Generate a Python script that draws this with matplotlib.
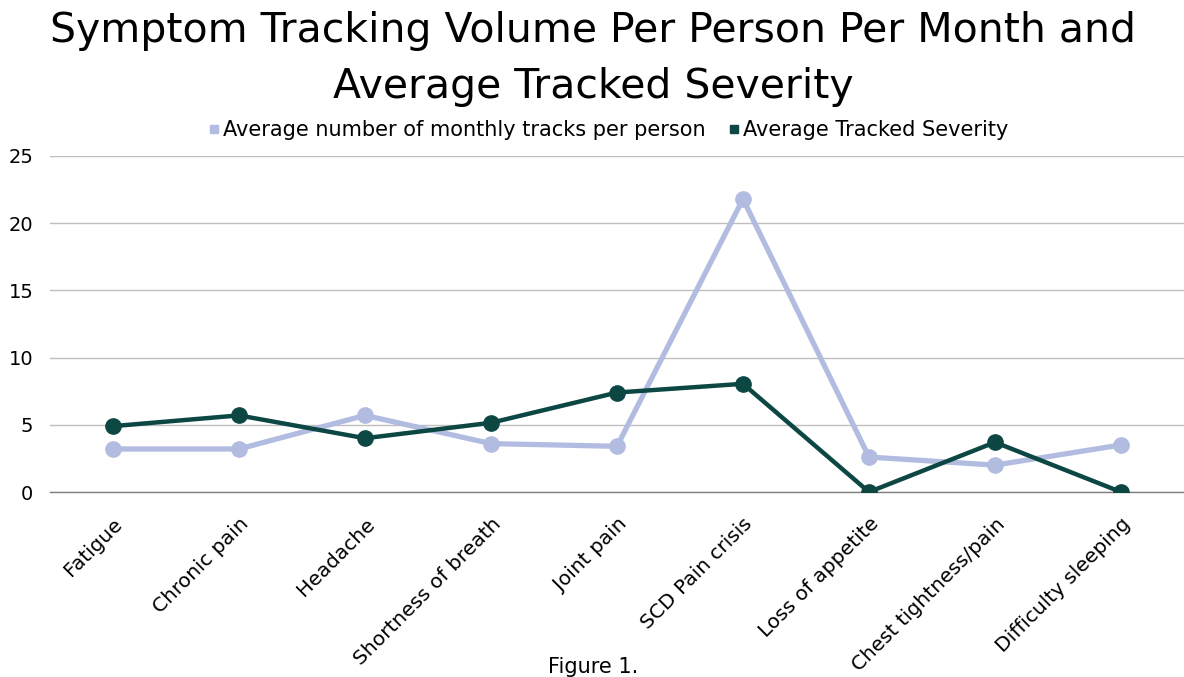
import matplotlib
matplotlib.use("Agg")
import matplotlib.pyplot as plt
from matplotlib.lines import Line2D

# -------------------------------
# Data
# -------------------------------
symptoms = [
    "Fatigue", "Chronic pain", "Headache", "Shortness of breath",
    "Joint pain", "SCD Pain crisis", "Loss of appetite",
    "Chest tightness/pain", "Difficulty sleeping",
]
monthly_tracks = [3.2, 3.2, 5.7, 3.6, 3.4, 21.8, 2.6, 2.0, 3.5]
tracked_severity = [4.9, 5.7, 4.0, 5.15, 7.4, 8.05, 0.0, 3.7, 0.0]

series_names = ["Average number of monthly tracks per person",
                "Average Tracked Severity"]

LIGHT = "#B1BCE0"
DARK = "#0D4744"

plt.rcParams["font.family"] = ["DejaVu Sans"]

# -------------------------------
# Figure
# -------------------------------
fig = plt.figure(figsize=(11.84, 6.77), dpi=100)
ax = fig.add_axes([50 / 1184, 185 / 677, 1134 / 1184, 336 / 677])

x = range(len(symptoms))
ax.plot(x, monthly_tracks, color=LIGHT, lw=3.8, marker="o", ms=11,
        solid_joinstyle="round", zorder=3)
ax.plot(x, tracked_severity, color=DARK, lw=3.2, marker="o", ms=11,
        solid_joinstyle="round", zorder=4)

ax.set_xlim(-0.5, len(symptoms) - 0.5)
ax.set_ylim(0, 25)
ax.set_yticks([0, 5, 10, 15, 20, 25])
ax.set_xticks(list(x))
ax.set_xticklabels(symptoms, rotation=45, ha="right", rotation_mode="anchor",
                   fontsize=14.5)
ax.tick_params(axis="both", length=0)
ax.tick_params(axis="y", labelsize=14, pad=12)
ax.tick_params(axis="x", pad=16)

ax.grid(axis="y", color="#BFBFBF", lw=1)
ax.set_axisbelow(True)
for s in ["top", "right", "left"]:
    ax.spines[s].set_visible(False)
ax.spines["bottom"].set_color("#7F7F7F")
ax.spines["bottom"].set_linewidth(1)

# -------------------------------
# Title, legend, caption
# -------------------------------
fig.text(0.501, 1 - 31 / 677, "Symptom Tracking Volume Per Person Per Month and",
         ha="center", va="center", fontsize=29.5)
fig.text(0.501, 1 - 87 / 677, "Average Tracked Severity",
         ha="center", va="center", fontsize=29.5)

handles = [
    Line2D([], [], ls="none", marker="s", ms=6, color=LIGHT),
    Line2D([], [], ls="none", marker="s", ms=6, color=DARK),
]
fig.legend(handles, series_names, loc="center", bbox_to_anchor=(0.513, 1 - 130 / 677),
           ncol=2, frameon=False, fontsize=15, handletextpad=0.1,
           columnspacing=1.0, handlelength=0.7)

fig.text(0.501, 1 - 667 / 677, "Figure 1.", ha="center", va="center", fontsize=15)

fig.savefig("out.png", dpi=100)
